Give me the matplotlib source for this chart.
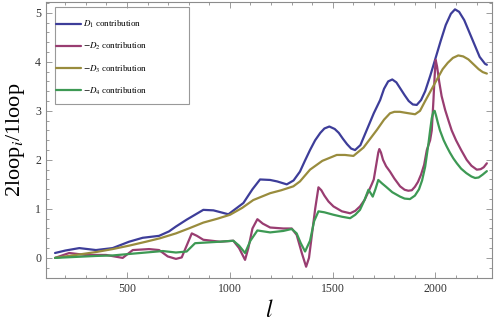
import matplotlib
matplotlib.use("Agg")
import matplotlib.pyplot as plt
from matplotlib.patches import Rectangle
from matplotlib.ticker import MultipleLocator

# --- DATA ---
l_d1 = [150, 200, 268, 349, 430, 510, 576, 656, 704, 738, 790, 871, 920, 993, 1066,
        1110, 1147, 1196, 1230, 1277, 1310, 1341, 1365, 1390, 1415, 1440, 1460, 1484, 1510,
        1530, 1550, 1570, 1590, 1609, 1635, 1660, 1680, 1700, 1731, 1750, 1770, 1790, 1810,
        1830, 1850, 1870, 1890, 1909, 1930, 1950, 1975, 1998, 2025, 2050, 2075, 2095, 2115,
        2140, 2165, 2190, 2215, 2241, 2250]
d1 = [0.10, 0.15, 0.20, 0.16, 0.20, 0.33, 0.41, 0.45, 0.54, 0.64, 0.78, 0.98, 0.97, 0.89, 1.12,
      1.40, 1.60, 1.59, 1.56, 1.50, 1.58, 1.76, 1.98, 2.20, 2.40, 2.55, 2.64, 2.68, 2.63,
      2.55, 2.43, 2.32, 2.23, 2.20, 2.30, 2.55, 2.75, 2.95, 3.22, 3.45, 3.60, 3.64, 3.58,
      3.45, 3.32, 3.20, 3.13, 3.12, 3.22, 3.40, 3.72, 4.04, 4.42, 4.75, 4.98, 5.07, 5.02,
      4.85, 4.60, 4.35, 4.10, 3.96, 3.94]

l_d2 = [150, 219, 300, 398, 479, 528, 607, 656, 698, 738, 766, 790, 815, 840, 871, 952,
        1017, 1045, 1074, 1090, 1110, 1134, 1160, 1196, 1260, 1301, 1325, 1350, 1371, 1385,
        1400, 1415, 1431, 1445, 1460, 1480, 1504, 1545, 1585, 1610, 1633, 1655, 1674, 1690,
        1700, 1712, 1722, 1727, 1735, 1745, 1760, 1779, 1800, 1828, 1850, 1868, 1885, 1900,
        1915, 1930, 1945, 1958, 1974, 1982, 1990, 1996, 2001, 2008, 2018, 2030, 2047, 2065,
        2079, 2100, 2125, 2152, 2175, 2201, 2220, 2235, 2250]
d2 = [0.00, 0.10, 0.06, 0.06, 0.00, 0.16, 0.18, 0.16, 0.03, -0.02, 0.01, 0.25, 0.50, 0.45, 0.37, 0.33,
      0.35, 0.20, -0.04, 0.20, 0.60, 0.79, 0.70, 0.62, 0.60, 0.60, 0.47, 0.10, -0.18, 0.00,
      0.50, 1.00, 1.44, 1.38, 1.27, 1.15, 1.05, 0.95, 0.91, 0.96, 1.05, 1.18, 1.35, 1.50,
      1.60, 1.90, 2.15, 2.22, 2.15, 2.00, 1.87, 1.76, 1.62, 1.46, 1.39, 1.37, 1.38, 1.45,
      1.55, 1.70, 1.90, 2.20, 2.40, 2.60, 3.20, 3.70, 4.04, 3.90, 3.60, 3.30, 3.02, 2.78,
      2.60, 2.40, 2.20, 2.00, 1.88, 1.80, 1.81, 1.85, 1.93]

l_d3 = [150, 268, 350, 430, 510, 592, 660, 738, 800, 871, 940, 1001, 1060, 1114, 1196,
        1250, 1309, 1341, 1390, 1450, 1520, 1560, 1601, 1650, 1715, 1750, 1779, 1800, 1827,
        1870, 1901, 1925, 1950, 1980, 2006, 2035, 2060, 2085, 2111, 2135, 2160, 2185, 2210,
        2230, 2250]
d3 = [0.00, 0.07, 0.12, 0.18, 0.25, 0.33, 0.40, 0.50, 0.60, 0.72, 0.80, 0.88, 1.02, 1.18, 1.32,
      1.38, 1.46, 1.56, 1.80, 1.98, 2.10, 2.10, 2.08, 2.25, 2.61, 2.82, 2.95, 2.98, 2.98,
      2.95, 2.93, 3.00, 3.20, 3.43, 3.63, 3.85, 3.98, 4.08, 4.13, 4.11, 4.05, 3.95, 3.85,
      3.79, 3.76]

l_d4 = [150, 250, 350, 430, 510, 592, 674, 738, 790, 831, 871, 950, 1017, 1045, 1074, 1100,
        1134, 1196, 1260, 1301, 1325, 1345, 1366, 1390, 1410, 1431, 1460, 1504, 1545, 1585,
        1610, 1633, 1655, 1674, 1685, 1695, 1708, 1722, 1740, 1760, 1790, 1828, 1850, 1876,
        1900, 1920, 1935, 1950, 1965, 1974, 1982, 1990, 1996, 2003, 2012, 2022, 2040, 2055,
        2070, 2087, 2104, 2125, 2150, 2175, 2193, 2210, 2230, 2250]
d4 = [0.00, 0.02, 0.04, 0.05, 0.08, 0.11, 0.14, 0.11, 0.13, 0.30, 0.31, 0.33, 0.35, 0.25, 0.10, 0.35,
      0.56, 0.52, 0.55, 0.59, 0.50, 0.30, 0.13, 0.35, 0.75, 0.95, 0.93, 0.88, 0.84, 0.81,
      0.88, 0.98, 1.18, 1.39, 1.32, 1.25, 1.40, 1.59, 1.52, 1.45, 1.34, 1.25, 1.21, 1.20,
      1.27, 1.40, 1.58, 1.86, 2.30, 2.60, 2.85, 2.98, 3.00, 2.90, 2.75, 2.60, 2.40, 2.27,
      2.15, 2.03, 1.93, 1.82, 1.73, 1.66, 1.63, 1.64, 1.70, 1.77]

labels = ["$D_1$ contribution", "$-D_2$ contribution",
          "$-D_3$ contribution", "$-D_4$ contribution"]
colors = ["#3d3d99", "#993d71", "#998c3d", "#3d9954"]

# --- STYLE ---
plt.rcParams["font.family"] = ["Liberation Serif", "DejaVu Serif"]
plt.rcParams["mathtext.fontset"] = "stix"

fig = plt.figure(figsize=(4.97, 3.27), dpi=100)
ax = fig.add_axes([46 / 497, 1 - 278 / 327, 446 / 497, 276 / 327])

series = [(l_d1, d1), (l_d2, d2), (l_d3, d3), (l_d4, d4)]
for (x, y), c, lab in zip(series, colors, labels):
    ax.plot(x, y, color=c, lw=1.6, label=lab, solid_capstyle="round",
            solid_joinstyle="round")

ax.set_xlim(106, 2275)
ax.set_ylim(-0.41, 5.22)
ax.xaxis.set_major_locator(MultipleLocator(500))
ax.xaxis.set_minor_locator(MultipleLocator(100))
ax.yaxis.set_major_locator(MultipleLocator(1))
ax.yaxis.set_minor_locator(MultipleLocator(0.2))

frame_col = "#8c8c8c"
for sp in ax.spines.values():
    sp.set_color(frame_col)
    sp.set_linewidth(0.8)
ax.tick_params(which="both", direction="in", top=True, right=True,
               color=frame_col, labelcolor="#333333", labelsize=8.5, width=0.6)
ax.tick_params(which="major", length=4.5)
ax.tick_params(which="minor", length=2.5)

ax.set_xlabel("$l$", fontsize=17, labelpad=4)
ax.set_ylabel("2loop$_i$/1loop", fontsize=16, labelpad=6)

# legend: entries without frame, box drawn separately (wide, mostly empty on the right)
leg = ax.legend(loc="upper left", bbox_to_anchor=(10 / 446, 1 - 17 / 276), fontsize=6.5,
                frameon=False, handlelength=2.8, handletextpad=0.2,
                labelspacing=1.22, borderpad=0, borderaxespad=0)
ax.add_patch(Rectangle((9 / 446, 1 - 102 / 276), 134 / 446, 97 / 276,
                       transform=ax.transAxes, fill=False, edgecolor="#999999",
                       lw=0.8, zorder=5))

fig.savefig("out.png", dpi=100)
